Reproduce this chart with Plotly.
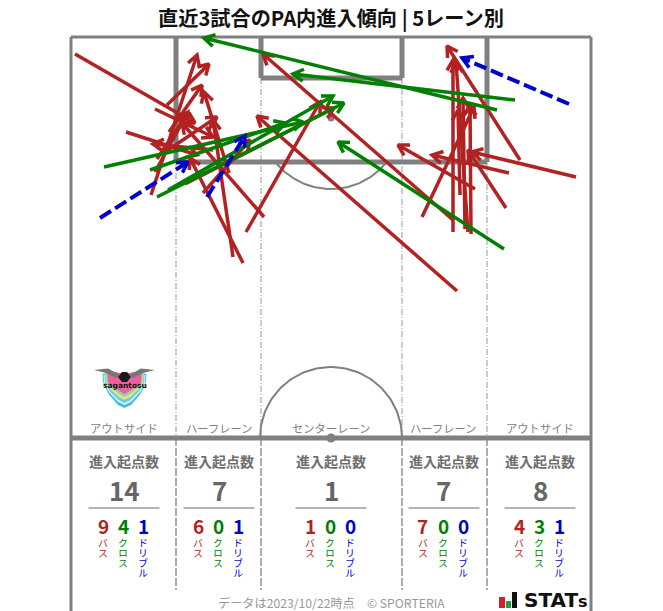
import numpy as np
import plotly.graph_objects as go

# --- data: arrows in pitch units (origin = top-left pitch corner), [x0, y0, x1, y1]
passes = [
    [4, 17, 124, 86], [55, 95, 126, 118], [84, 72, 142, 100], [96, 68, 138, 27],
    [98, 95, 131, 48], [86, 122, 114, 80], [80, 158, 126, 18], [97, 113, 146, 80],
    [84, 135, 117, 75], [114, 147, 263, 71], [132, 156, 179, 103], [172, 226, 119, 121],
    [162, 220, 142, 83], [142, 113, 82, 107], [158, 136, 133, 55], [193, 180, 111, 86],
    [175, 195, 249, 65], [386, 254, 186, 79], [382, 183, 192, 17], [351, 180, 403, 70],
    [382, 195, 382, 23], [394, 192, 392, 61], [397, 195, 385, 25], [400, 197, 399, 68],
    [404, 152, 327, 108], [389, 158, 387, 73], [438, 136, 361, 118], [435, 171, 397, 113],
    [505, 140, 401, 115], [449, 123, 376, 9],
]
crosses = [
    [33, 130, 232, 85], [79, 133, 214, 86], [97, 153, 262, 59], [86, 160, 273, 66],
    [444, 63, 222, 37], [426, 73, 133, 1], [433, 212, 267, 105],
]
dribbles = [[29, 181, 117, 125], [136, 160, 174, 99], [498, 67, 391, 21]]

lanes = ["アウトサイド", "ハーフレーン", "センターレーン", "ハーフレーン", "アウトサイド"]
totals = [14, 7, 1, 7, 8]
pass_counts = [9, 6, 1, 7, 4]
cross_counts = [4, 0, 0, 0, 3]
dribble_counts = [1, 1, 0, 0, 1]
kinds = ["バス", "クロス", "ドリブル"]

RED, GREEN, BLUE = "#B22222", "#008000", "#0000CD"
GREY = "#808080"
W, H = 663, 611
OX, OY = 71, 37
lane_cx = [124, 219, 331, 444, 540]


def P(x, y):
    return x / W, 1 - y / H


def lines(arrows):
    xs, ys = [], []
    for x0, y0, x1, y1 in arrows:
        xs += [x0, x1, None]
        ys += [y0, y1, None]
    return xs, ys


def heads(arrows, size=12, spread=np.radians(30)):
    xs, ys = [], []
    for x0, y0, x1, y1 in arrows:
        a = np.arctan2(y0 - y1, x0 - x1)
        xs += [x1 + size * np.cos(a + spread), x1, x1 + size * np.cos(a - spread), None]
        ys += [y1 + size * np.sin(a + spread), y1, y1 + size * np.sin(a - spread), None]
    return xs, ys


fig = go.Figure()


def arc(cx, cy, r, a0, a1):
    t = np.radians(np.linspace(a0, a1, 80))
    fig.add_trace(go.Scatter(x=cx + r * np.cos(t), y=cy + r * np.sin(t), mode="lines",
                             line=dict(color=GREY, width=2), hoverinfo="skip"))


arc(260, 81, 71, 38, 142)
arc(260, 401, 71, 180, 360)

for arrows, color, dash, width in [(passes, RED, "solid", 3.5), (crosses, GREEN, "solid", 3.5),
                                   (dribbles, BLUE, "13px,5px", 4)]:
    x, y = lines(arrows)
    fig.add_trace(go.Scatter(x=x, y=y, mode="lines", line=dict(color=color, width=width, dash=dash),
                             hoverinfo="skip"))
    x, y = heads(arrows)
    fig.add_trace(go.Scatter(x=x, y=y, mode="lines", line=dict(color=color, width=3.5), hoverinfo="skip"))

shapes = []


def line(x0, y0, x1, y1, color=GREY, width=2, dash="solid"):
    shapes.append(dict(type="line", x0=x0, y0=y0, x1=x1, y1=y1, xref="x", yref="y", layer="below",
                       line=dict(color=color, width=width, dash=dash)))


# lane separators
for x, top in [(105, 125), (190, 41), (331, 41), (416, 125)]:
    line(x, top, x, 401, "#999999", 1, "6px,2px,1px,2px")
    line(x, 401, x, 553, "#777777", 1.2, "8px,2px")
# pitch
line(0, 0, 520, 0, GREY, 3)
line(0, 0, 0, 574, GREY, 3)
line(520, 0, 520, 574, GREY, 3)
line(0, 401, 520, 401, GREY, 5)
for pts in [[(105, 0), (105, 125), (416, 125), (416, 0)], [(190, 0), (190, 41), (331, 41), (331, 0)]]:
    for (a, b), (c, d) in zip(pts, pts[1:]):
        line(a, b, c, d, GREY, 5)
for cx, cy, r in [(260, 81, 3.5), (260, 401, 4.5)]:
    shapes.append(dict(type="circle", x0=cx - r, x1=cx + r, y0=cy - r, y1=cy + r, xref="x", yref="y",
                       fillcolor=GREY, line_width=0, layer="below"))

anns = []
JP = "Noto Sans CJK JP"


def text(x, y, s, size, color, **kw):
    px, py = P(x, y)
    anns.append(dict(x=px, y=py, xref="paper", yref="paper", text=s, showarrow=False,
                     font=dict(family=kw.pop("family", JP), size=size, color=color),
                     xanchor=kw.pop("xanchor", "center"), yanchor=kw.pop("yanchor", "middle"), **kw))


text(331, 18, "<b>直近3試合のPA内進入傾向 | 5レーン別</b>", 20.2, "#111111")
for i, cx in enumerate(lane_cx):
    text(cx, 428, lanes[i], 11.3, GREY)
    text(cx, 461, "<b>進入起点数</b>", 14, "#6e6e6e")
    text(cx, 489, f"<b>{totals[i]}</b>", 26, "#666666")
    shapes.append(dict(type="line", xref="paper", yref="paper", x0=(cx - 35.5) / W, x1=(cx + 35.5) / W,
                       y0=1 - 508 / H, y1=1 - 508 / H, line=dict(color="#666666", width=1)))
    for dx, v, c, k in zip((-21, -1, 19), (pass_counts[i], cross_counts[i], dribble_counts[i]),
                           (RED, GREEN, BLUE), kinds):
        text(cx + dx, 525, f"<b>{v}</b>", 19, c)
        text(cx + dx, 537, k, 10, c, yanchor="top")

text(331, 602.5, "データは2023/10/22時点　© SPORTERIA", 12.2, "#999999")
text(522, 600, '<b>STAT<span style="font-size:16px">s</span></b>', 20, "#111111",
     family="DejaVu Sans", xanchor="left")


def pshape(path, fill, stroke=None, w=0):
    shapes.append(dict(type="path", path=path, xref="paper", yref="paper", fillcolor=fill,
                       line=dict(color=stroke or fill, width=w)))


def path(pts, close=True):
    return "M" + " L".join(f"{P(x, y)[0]:.5f},{P(x, y)[1]:.5f}" for x, y in pts) + (" Z" if close else "")


def shield(dx, top, bottom, fill):
    cx = 124.5
    pts = [(cx - dx, top + 2), (cx - dx * 0.55, top), (cx, top + 2), (cx + dx * 0.55, top), (cx + dx, top + 2),
           (cx + dx * 0.98, top + 10), (cx + dx * 0.72, top + (bottom - top) * 0.62),
           (cx + dx * 0.3, bottom - 3), (cx, bottom), (cx - dx * 0.3, bottom - 3),
           (cx - dx * 0.72, top + (bottom - top) * 0.62), (cx - dx * 0.98, top + 10)]
    pshape(path(pts), fill)


# club crest
shield(22, 372, 408, "#41BDE6")
shield(21, 373, 405, "#D6F1F8")
shield(20, 373, 403, "#6FCBE0")
shield(19, 373, 400, "#E9E27A")
shield(18, 373, 397, "#8FD3A8")
shield(17, 372, 394, "#EE5FA0")
pshape(path([(94, 370), (108, 368.5), (120, 375), (116, 378), (106, 373)]), "#77776f")
pshape(path([(155, 370), (141, 368.5), (129, 375), (133, 378), (143, 373)]), "#77776f")
pshape(path([(122, 372), (127, 372), (131, 377), (127, 382), (122, 382), (118, 377)]), "#1a1a1a")
text(124.5, 385, "<b>sagantosu</b>", 7.5, "#111111", family="DejaVu Sans")

# STATs logo bars
for x0, y0, x1, c in [(499, 597, 505, "#D3202A"), (506, 601, 511, "#1F9E4A"), (512, 592, 517, "#111111")]:
    shapes.append(dict(type="rect", xref="paper", yref="paper", x0=x0 / W, x1=x1 / W, y0=1 - 608 / H, y1=1 - y0 / H,
                       fillcolor=c, line_width=0))

fig.update_layout(
    width=W, height=H, margin=dict(l=0, r=0, t=0, b=0), showlegend=False,
    paper_bgcolor="white", plot_bgcolor="white", shapes=shapes, annotations=anns,
    xaxis=dict(range=[-OX, W - OX], visible=False, fixedrange=True),
    yaxis=dict(range=[H - OY, -OY], visible=False, fixedrange=True),
)
# the three small labels run top-to-bottom, as in the reference
vertical_js = """
document.body.style.margin='0';document.body.style.overflow='hidden';
document.querySelectorAll('.annotation-text').forEach(function(t){
  if(['バス','クロス','ドリブル'].indexOf(t.textContent)>=0){
    t.style.writingMode='vertical-rl';
    t.style.textAnchor='start';
    t.setAttribute('y','1');
  }
});
"""
fig.write_html("out.html", config={"displayModeBar": False}, post_script=vertical_js)
